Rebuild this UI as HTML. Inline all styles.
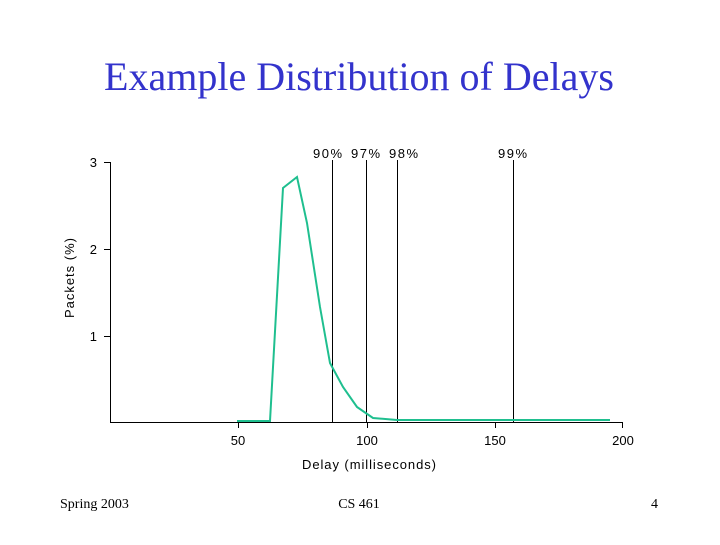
<!DOCTYPE html>
<html><head><style>
body{margin:0;background:#fff}
svg text{font-family:"Liberation Sans",sans-serif}
</style></head><body>
<svg width="720" height="540" xmlns="http://www.w3.org/2000/svg">
<text x="359" y="90" text-anchor="middle" font-size="40" fill="#3333cc" style="font-family:'Liberation Serif',serif">Example Distribution of Delays</text>
<g stroke="#000" stroke-width="1" fill="none">
<line x1="110.5" y1="162" x2="110.5" y2="422"/>
<line x1="110" y1="422.5" x2="623" y2="422.5"/>
<line x1="104" y1="162.5" x2="110" y2="162.5"/>
<line x1="104" y1="249.5" x2="110" y2="249.5"/>
<line x1="104" y1="336.5" x2="110" y2="336.5"/>
<line x1="238.5" y1="422" x2="238.5" y2="428"/>
<line x1="367.5" y1="422" x2="367.5" y2="428"/>
<line x1="495.5" y1="422" x2="495.5" y2="428"/>
<line x1="622.5" y1="422" x2="622.5" y2="428"/>
<line x1="332.5" y1="160" x2="332.5" y2="422"/>
<line x1="366.5" y1="160" x2="366.5" y2="422"/>
<line x1="397.5" y1="160" x2="397.5" y2="422"/>
<line x1="513.5" y1="160" x2="513.5" y2="422"/>
</g>
<polyline fill="none" stroke="#1fbf8f" stroke-width="2" points="237,421 270,421 283,188 297,177 307,223 320,307 330,363 343,387 357,407 373,418 397,420 610,420"/>
<g font-size="13" fill="#000">
<text x="97" y="167" text-anchor="end">3</text>
<text x="97" y="254" text-anchor="end">2</text>
<text x="97" y="341" text-anchor="end">1</text>
<text x="238" y="445" text-anchor="middle">50</text>
<text x="367" y="445" text-anchor="middle">100</text>
<text x="495" y="445" text-anchor="middle">150</text>
<text x="623" y="445" text-anchor="middle">200</text>
<text x="302" y="469" textLength="134">Delay (milliseconds)</text>
<text transform="translate(74,318) rotate(-90)" textLength="80">Packets (%)</text>
<text x="313" y="158" textLength="29">90%</text>
<text x="351" y="158" textLength="29">97%</text>
<text x="389" y="158" textLength="29">98%</text>
<text x="498" y="158" textLength="29">99%</text>
</g>
<g font-size="14" fill="#000">
<text x="60" y="508" style="font-family:'Liberation Serif',serif">Spring 2003</text>
<text x="359" y="508" text-anchor="middle" style="font-family:'Liberation Serif',serif">CS 461</text>
<text x="658" y="508" text-anchor="end" style="font-family:'Liberation Serif',serif">4</text>
</g>
</svg>
</body></html>
